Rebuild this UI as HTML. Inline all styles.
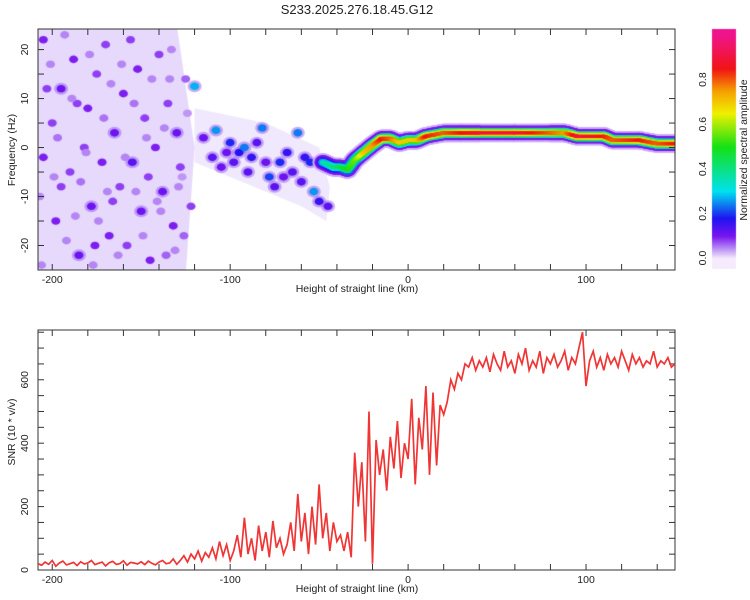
<!DOCTYPE html>
<html><head><meta charset="utf-8"><style>
body{margin:0;background:#fff;width:750px;height:600px;overflow:hidden;font-family:"Liberation Sans",sans-serif}
#wrap{position:relative;width:750px;height:600px}
canvas,svg{position:absolute;left:0;top:0}
</style></head><body>
<div id="wrap">
<canvas id="cv" width="750" height="600"></canvas>
<svg id="sv" width="750" height="600"></svg>
</div>
<script>
// ---- data ----
const ridgeX = [-48,-42,-38,-34,-30,-25,-20,-15,-10,-5,0,5,10,20,30,40,60,80,88,95,110,115,130,140,150];
const ridgeF = [-3,-4,-4,-4.5,-2.5,-1,0.5,1.8,1.8,1,1.5,1.5,2.3,3,3,3,3,3,3,2.3,2.3,1.5,1.5,0.8,0.8];
const ridgeAmp = [0.35,0.4,0.45,0.5,0.55,0.7,0.75,0.85,0.8,0.7,0.7,0.7,0.85,0.8,0.85,0.9,0.9,0.8,0.75,0.9,0.85,0.8,0.85,0.8,0.85];
const blobX = [-205,-200,-198,-195,-190,-188,-185,-182,-180,-178,-175,-172,-170,-168,-165,-162,-160,-158,-155,-152,-150,-148,-145,-142,-140,-138,-135,-132,-130,-128,-125,-122,-195,-205,-203,-186,-176,-166,-156,-146,-136,-126,
-207,-201,-197,-192,-189,-184,-179,-174,-171,-167,-163,-159,-154,-149,-144,-141,-137,-133,-129,-124,-206,-199,-193,-187,-181,-177,-169,-161,-153,-147,-139,-134,-131,-127,
-120,-108,-100,-95,-92,-88,-82,-78,-72,-68,-62,-58,-55,-53,-50,-110,-98,-90,-75,-65,-45,-85,-105,-115,-60,-80,-70,-102];
const blobF = [22,5,-15,12,-5,18,-22,0,8,-12,15,-3,21,-18,3,-8,11,-20,-3,16,-13,6,-23,0,19,-9,9,-16,3,-4,14,-12,-8,-2,12,9,-20,-11,22,-6,-22,-18,
-10,17,2,-19,10,-7,19,-15,6,13,-22,-2,9,-18,14,-11,4,20,-8,7,-24,-6,23,-14,-1,-24,-9,17,-9,2,-13,14,-21,-6,
12.5,3.5,1,-1,0,-2,4,-6,-3,-1,3,-2,-3,-9,-11,-2,-3,-5,-8,-5,-12,1,-4,2,-7,-3,-6,-1];
const blobAmp = [.6,.5,.6,.7,.5,.6,.7,.5,.6,.7,.5,.6,.5,.6,.7,.5,.6,.5,.8,.6,.7,.5,.6,.6,.5,.7,.5,.6,.7,.5,.4,.5,.5,.6,.5,.5,.6,.5,.5,.5,.4,.4,
.3,.3,.35,.3,.3,.35,.3,.3,.35,.3,.3,.3,.35,.3,.3,.3,.3,.3,.3,.25,.3,.3,.3,.3,.3,.3,.3,.3,.3,.3,.3,.3,.3,.25,
1.7,1.6,1.2,1.1,1.5,1.0,1.5,1.3,1.2,1.0,1.5,1.0,1.2,1.6,1.0,0.8,0.8,0.8,0.8,0.8,0.8,0.8,0.7,0.7,0.8,0.7,0.7,0.7];
const snrStart = -208, snrStep = 2;
const snrValues = [20,15,25,18,30,12,22,28,16,20,24,14,26,19,22,30,17,21,25,13,23,27,18,20,29,15,24,22,19,26,17,28,21,16,25,30,20,22,35,18,
30,45,25,50,35,60,28,55,40,70,35,90,45,80,30,
60,110,40,165,50,100,30,140,60,120,40,155,70,100,50,
80,150,60,240,90,180,50,200,80,270,100,180,60,150,90,
110,60,120,40,370,200,340,90,500,20,
410,300,380,250,420,320,470,290,400,350,
540,270,480,380,580,300,560,330,520,490,
530,600,570,620,600,650,640,670,630,660,
640,670,625,680,650,630,690,640,660,620,680,650,700,630,660,640,690,620,670,650,
680,640,660,690,630,670,650,700,750,580,660,690,640,670,630,680,650,670,640,690,
660,630,680,650,670,640,660,650,690,640,660,650,670,640,650];
const xTicks=[-200,-100,0,100];
const fTicks=[-20,-10,0,10,20];
const snrTicks=[0,200,400,600];
const cbTicks=[0,0.2,0.4,0.6,0.8];
// ---- axes ----
const L=38,R=675,xmin=-208,xmax=150;
const X=v=>L+(v-xmin)/(xmax-xmin)*(R-L);
const T1=29,B1=270,fmin=-25,fmax=24.2;
const FY=f=>B1-(f-fmin)/(fmax-fmin)*(B1-T1);
const T2=330,B2=570,smax=757;
const SY=s=>B2-s/smax*(B2-T2);
const CBL=712,CBR=736,CBT=29,CB0=258,CBS=223;
const CY=v=>CB0-v*CBS;
const stops=[[0,[245,235,252]],[0.04,[190,150,245]],[0.1,[120,20,240]],[0.18,[30,20,240]],[0.3,[0,225,240]],[0.5,[20,225,20]],[0.65,[240,240,0]],[0.75,[245,160,0]],[0.85,[240,20,20]],[1,[240,20,140]]];
function cmap(v){v=Math.max(0,Math.min(1,v));for(let i=1;i<stops.length;i++){if(v<=stops[i][0]){const a=stops[i-1],b=stops[i],t=(v-a[0])/(b[0]-a[0]);return 'rgb('+a[1].map((c,k)=>Math.round(c+(b[1][k]-c)*t)).join(',')+')';}}return 'rgb(240,20,140)';}
const cv=document.getElementById('cv'),ctx=cv.getContext('2d');
ctx.save();ctx.beginPath();ctx.rect(L,T1,R-L,B1-T1);ctx.clip();
ctx.fillStyle='rgba(195,165,245,0.42)';
ctx.beginPath();ctx.moveTo(X(-208),FY(25));ctx.lineTo(X(-130),FY(25));ctx.lineTo(X(-120),FY(0));ctx.lineTo(X(-125),FY(-26));ctx.lineTo(X(-208),FY(-26));ctx.fill();
ctx.fillStyle='rgba(205,180,245,0.3)';
ctx.beginPath();ctx.moveTo(X(-120),FY(8));ctx.lineTo(X(-80),FY(5));ctx.lineTo(X(-50),FY(0));ctx.lineTo(X(-44),FY(-8));ctx.lineTo(X(-46),FY(-15));ctx.lineTo(X(-60),FY(-12));ctx.lineTo(X(-100),FY(-6));ctx.lineTo(X(-120),FY(-3));ctx.fill();
for(let i=0;i<blobX.length;i++){if(blobAmp[i]>0.65){ctx.fillStyle='rgba(150,90,240,0.5)';ctx.beginPath();ctx.ellipse(X(blobX[i]),FY(blobF[i]),7,6,0,0,7);ctx.fill();}}
for(let i=0;i<blobX.length;i++){ctx.fillStyle=cmap(blobAmp[i]*0.16);ctx.beginPath();ctx.ellipse(X(blobX[i]),FY(blobF[i]),4.5,3.8,0,0,7);ctx.fill();}
const layers=[[1.9,()=>0.03],[1.5,()=>0.1],[1.05,a=>a*0.45],[0.7,a=>a*0.75],[0.38,a=>a]];
for(const [rad,fn] of layers){
 for(let i=0;i<ridgeX.length-1;i++){
  for(let t=0;t<1;t+=0.08){
   const x=ridgeX[i]+(ridgeX[i+1]-ridgeX[i])*t,f=ridgeF[i]+(ridgeF[i+1]-ridgeF[i])*t,a=ridgeAmp[i]+(ridgeAmp[i+1]-ridgeAmp[i])*t;
   ctx.fillStyle=cmap(fn(a));ctx.beginPath();ctx.ellipse(X(x),FY(f),rad*4.9+1,rad*4.9,0,0,7);ctx.fill();
  }}}
ctx.restore();
for(let y=CBT;y<=CB0+10;y++){ctx.fillStyle=cmap((CB0-y)/CBS);ctx.fillRect(CBL,y,CBR-CBL,1);}
const sv=document.getElementById('sv');const NS='http://www.w3.org/2000/svg';
function el(tag,attrs,txt){const e=document.createElementNS(NS,tag);for(const k in attrs)e.setAttribute(k,attrs[k]);if(txt!=null)e.textContent=txt;sv.appendChild(e);return e;}
function txt(x,y,s,size,rot,name){const e=el('text',{x:x,y:y,'font-size':size,'text-anchor':'middle',fill:'#222',transform:rot?`rotate(-90 ${x} ${y})`:''},s);return e;}
txt(357,14,'S233.2025.276.18.45.G12',13,false,'chart-title');
function frame(T,B,name){const r=el('rect',{x:L,y:T,width:R-L,height:B-T,fill:'none',stroke:'#333','stroke-width':1});
 for(let v=-200;v<=140;v+=20){const x=X(v);const a=el('line',{x1:x,x2:x,y1:B,y2:B-6,stroke:'#333'});const b=el('line',{x1:x,x2:x,y1:T,y2:T+6,stroke:'#333'});}
 for(const v of xTicks){txt(X(v),B+13,String(v),10.5,false,'x-tick-label');}
 txt(357,B+22,'Height of straight line (km)',10.5,false,'x-axis-title');}
frame(T1,B1,'spectrogram-frame');frame(T2,B2,'snr-frame');
for(let f=-25;f<=24;f+=5){const y=FY(f);el('line',{x1:L,x2:L+6,y1:y,y2:y,stroke:'#333'});el('line',{x1:R,x2:R-6,y1:y,y2:y,stroke:'#333'});}
for(const f of fTicks)txt(28,FY(f),String(f),10.5,true,'freq-tick-label');
txt(15,150,'Frequency (Hz)',10.5,true,'freq-axis-title');
for(let s=0;s<=750;s+=50){const y=SY(s);el('line',{x1:L,x2:L+6,y1:y,y2:y,stroke:'#333'});el('line',{x1:R,x2:R-6,y1:y,y2:y,stroke:'#333'});}
for(const s of snrTicks)txt(28,SY(s),String(s),10.5,true,'snr-tick-label');
txt(15,432,'SNR (10 * v/v)',10.5,true,'snr-axis-title');
for(const c of cbTicks)txt(706,CY(c),c.toFixed(1),10.5,true,'colorbar-tick-label');
txt(747,150,'Normalized spectral amplitude',10.5,true,'colorbar-title');
let d='';snrValues.forEach((v,i)=>{const x=X(snrStart+i*snrStep);d+=(i?'L':'M')+x.toFixed(1)+','+SY(v).toFixed(1);});
const line=el('path',{d:d,fill:'none',stroke:'#f03535','stroke-width':1.7,'clip-path':'url(#c2)'});


const defs=el('defs',{});const cp=document.createElementNS(NS,'clipPath');cp.setAttribute('id','c2');const cr=document.createElementNS(NS,'rect');cr.setAttribute('x',L);cr.setAttribute('y',T2);cr.setAttribute('width',R-L);cr.setAttribute('height',B2-T2);cp.appendChild(cr);defs.appendChild(cp);
</script>
</body></html>
